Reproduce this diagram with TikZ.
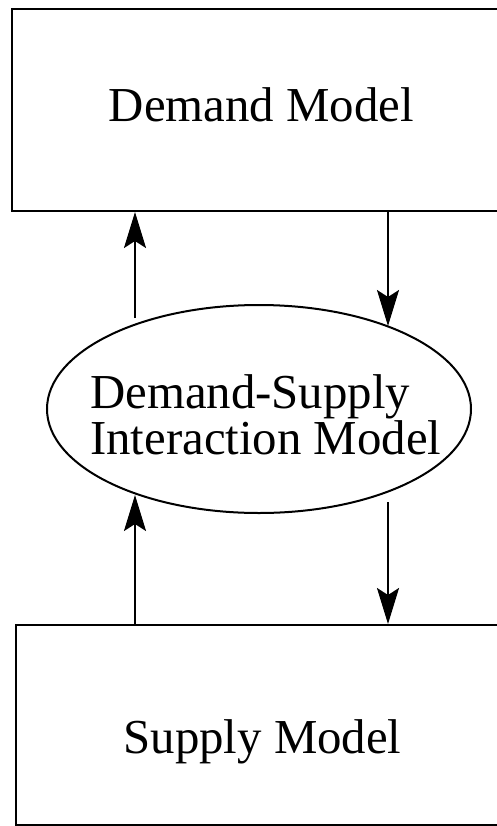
\documentclass[tikz,border=0pt]{standalone}
\usepackage{fontspec}
\setmainfont{Liberation Serif}
\usetikzlibrary{shapes.geometric,arrows.meta}

\tikzset{
  modelbox/.style={draw, line width=2bp, rectangle, inner sep=0pt},
  interact/.style={draw, line width=2bp, ellipse, inner sep=0pt},
  label/.style={inner sep=0pt, font=\fontsize{49}{43}\selectfont},
  flow/.style={line width=2bp,
    -{Stealth[length=36bp, width=22bp, inset=7bp]}},
}

\begin{document}
\begin{tikzpicture}[x=1bp, y=-1bp]
  \useasboundingbox (0,0) rectangle (497,826);
  \clip (0,0) rectangle (497,826);

  % the two model boxes run off the right edge
  \node[modelbox, minimum width=508bp, minimum height=202bp] (demand) at (266,110) {};
  \node[modelbox, minimum width=504bp, minimum height=200bp] (supply) at (268,725) {};
  \node[label, anchor=base] (demandtxt) at (261.5,121) {Demand Model};
  \node[label, anchor=base] (supplytxt) at (262.5,753) {Supply Model};

  % interaction model in the middle (base anchor = baseline of last line)
  \node[interact, minimum width=424bp, minimum height=208bp] (inter) at (259,409) {};
  \node[label, anchor=base west, align=left] (intertxt) at (90,454)
    {Demand-Supply\\Interaction Model};

  % connector end points
  \coordinate (upL) at (135,318);
  \coordinate (upR) at (388,326);
  \coordinate (loL) at (135,495);
  \coordinate (loR) at (388,502);

  \draw[flow] (upL) -- (demand.south -| upL);
  \draw[flow] (demand.south -| upR) -- (upR);
  \draw[flow] (supply.north -| loL) -- (loL);
  \draw[flow] (loR) -- (supply.north -| loR);
\end{tikzpicture}
\end{document}
